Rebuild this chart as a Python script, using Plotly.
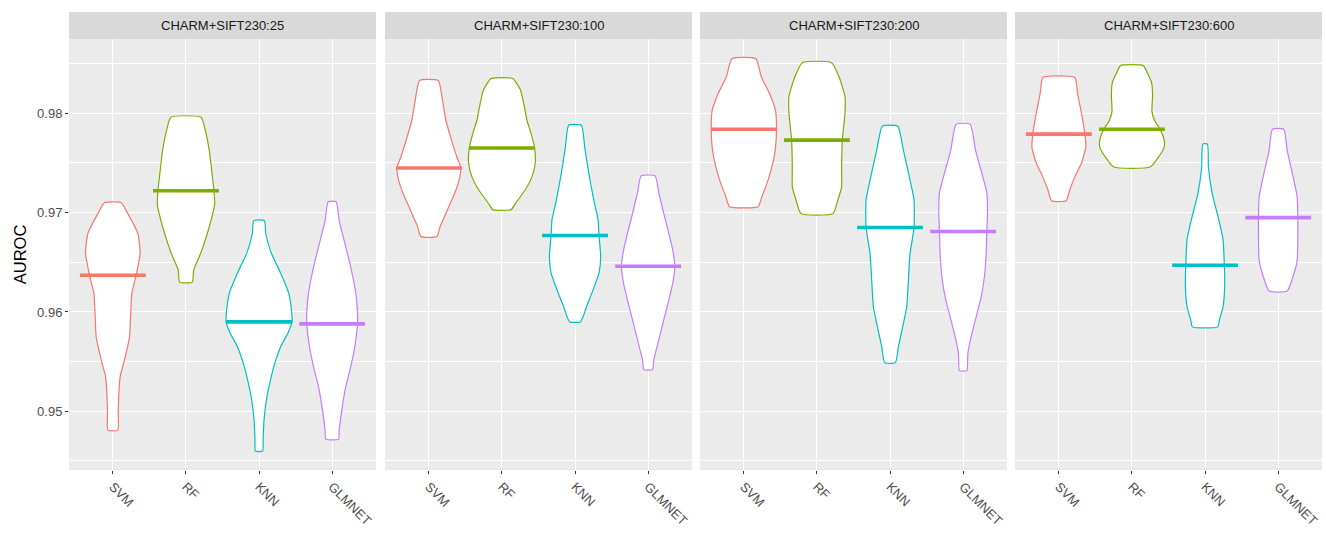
import plotly.graph_objects as go

facets = ["CHARM+SIFT230:25", "CHARM+SIFT230:100", "CHARM+SIFT230:200", "CHARM+SIFT230:600"]
models = ["SVM", "RF", "KNN", "GLMNET"]
colors = ["#F8766D", "#7CAE00", "#00BFC4", "#C77CFF"]

y_ticks = [0.95, 0.96, 0.97, 0.98]
y_minor = [0.945, 0.955, 0.965, 0.975, 0.985]

# median AUROC per model (SVM, RF, KNN, GLMNET)
median_25 = [0.9637, 0.9722, 0.9590, 0.9588]
median_100 = [0.9745, 0.9765, 0.9677, 0.9646]
median_200 = [0.9784, 0.9773, 0.9685, 0.9681]
median_600 = [0.9779, 0.9784, 0.9647, 0.9695]

# violin density profiles: (AUROC, half-width in category units), top to bottom
svm_25 = [(0.9710, 0.114), (0.9699, 0.205), (0.9679, 0.342), (0.9659, 0.374), (0.9637, 0.319),
          (0.9619, 0.260), (0.9595, 0.242), (0.9575, 0.228), (0.9552, 0.160), (0.9535, 0.100),
          (0.9518, 0.082), (0.9498, 0.073), (0.9481, 0.068)]
rf_25 = [(0.9796, 0.205), (0.9780, 0.274), (0.9760, 0.324), (0.9740, 0.356), (0.9722, 0.383),
         (0.9708, 0.392), (0.9696, 0.356), (0.9679, 0.292), (0.9659, 0.201), (0.9642, 0.105),
         (0.9630, 0.087)]
knn_25 = [(0.9692, 0.073), (0.9679, 0.091), (0.9659, 0.169), (0.9639, 0.296), (0.9619, 0.406),
          (0.9599, 0.447), (0.9590, 0.451), (0.9579, 0.397), (0.9565, 0.296), (0.9548, 0.214),
          (0.9528, 0.146), (0.9511, 0.100), (0.9491, 0.068), (0.9471, 0.055), (0.9460, 0.050)]
glm_25 = [(0.9711, 0.055), (0.9692, 0.096), (0.9672, 0.164), (0.9645, 0.255), (0.9619, 0.324),
          (0.9599, 0.347), (0.9588, 0.347), (0.9565, 0.310), (0.9545, 0.255), (0.9525, 0.187),
          (0.9501, 0.132), (0.9481, 0.096), (0.9472, 0.087)]

svm_100 = [(0.9833, 0.128), (0.9813, 0.187), (0.9793, 0.233), (0.9773, 0.310), (0.9756, 0.383),
           (0.9745, 0.438), (0.9733, 0.415), (0.9720, 0.356), (0.9703, 0.255), (0.9686, 0.155),
           (0.9676, 0.109)]
rf_100 = [(0.9835, 0.146), (0.9824, 0.251), (0.9807, 0.306), (0.9793, 0.342), (0.9780, 0.397),
          (0.9765, 0.447), (0.9750, 0.456), (0.9736, 0.410), (0.9723, 0.319), (0.9709, 0.182),
          (0.9703, 0.128)]
knn_100 = [(0.9788, 0.087), (0.9766, 0.132), (0.9740, 0.187), (0.9713, 0.255), (0.9693, 0.315),
           (0.9677, 0.328), (0.9656, 0.351), (0.9639, 0.328), (0.9622, 0.246), (0.9605, 0.155),
           (0.9595, 0.109), (0.9590, 0.073)]
glm_100 = [(0.9737, 0.096), (0.9720, 0.146), (0.9699, 0.214), (0.9679, 0.283), (0.9662, 0.337),
           (0.9646, 0.365), (0.9629, 0.337), (0.9612, 0.283), (0.9592, 0.214), (0.9572, 0.146),
           (0.9552, 0.078), (0.9542, 0.059)]

svm_200 = [(0.9855, 0.164), (0.9837, 0.237), (0.9820, 0.351), (0.9803, 0.433), (0.9784, 0.447),
           (0.9763, 0.429), (0.9746, 0.383), (0.9730, 0.319), (0.9716, 0.246), (0.9706, 0.196)]
rf_200 = [(0.9851, 0.201), (0.9837, 0.301), (0.9817, 0.383), (0.9800, 0.383), (0.9773, 0.347),
          (0.9746, 0.337), (0.9726, 0.337), (0.9713, 0.287), (0.9699, 0.219)]
knn_200 = [(0.9787, 0.105), (0.9763, 0.182), (0.9736, 0.264), (0.9713, 0.328), (0.9685, 0.328),
           (0.9659, 0.274), (0.9632, 0.251), (0.9605, 0.228), (0.9585, 0.173), (0.9565, 0.114),
           (0.9549, 0.073)]
glm_200 = [(0.9789, 0.096), (0.9763, 0.169), (0.9736, 0.269), (0.9720, 0.324), (0.9699, 0.333),
           (0.9681, 0.324), (0.9659, 0.315), (0.9636, 0.292), (0.9615, 0.246), (0.9595, 0.178),
           (0.9575, 0.109), (0.9558, 0.064), (0.9541, 0.050)]

svm_600 = [(0.9836, 0.219), (0.9820, 0.255), (0.9800, 0.310), (0.9779, 0.356), (0.9766, 0.369),
           (0.9750, 0.310), (0.9736, 0.219), (0.9723, 0.150), (0.9712, 0.100)]
rf_600 = [(0.9848, 0.155), (0.9840, 0.214), (0.9831, 0.268), (0.9818, 0.282), (0.9802, 0.273),
          (0.9792, 0.314), (0.9784, 0.386), (0.9773, 0.441), (0.9766, 0.441), (0.9757, 0.373),
          (0.9746, 0.250)]
knn_600 = [(0.9769, 0.032), (0.9746, 0.046), (0.9720, 0.096), (0.9693, 0.187), (0.9673, 0.246),
           (0.9647, 0.264), (0.9626, 0.269), (0.9605, 0.246), (0.9592, 0.196), (0.9585, 0.173)]
glm_600 = [(0.9784, 0.078), (0.9763, 0.123), (0.9736, 0.205), (0.9716, 0.260), (0.9695, 0.269),
           (0.9673, 0.269), (0.9652, 0.260), (0.9636, 0.205), (0.9621, 0.123)]

profiles = [
    [svm_25, rf_25, knn_25, glm_25],
    [svm_100, rf_100, knn_100, glm_100],
    [svm_200, rf_200, knn_200, glm_200],
    [svm_600, rf_600, knn_600, glm_600],
]
medians = [median_25, median_100, median_200, median_600]

FONT = "Liberation Sans, Arial, sans-serif"
W, H = 1326, 546
ML, MR, MT, MB = 69, 4, 39, 76
plot_w = W - ML - MR
plot_h = H - MT - MB
panel_starts = [0, 316, 631, 946]
panel_w = 307
strip_h = 27
median_half = 0.45

fig = go.Figure()

for fi, facet in enumerate(facets):
    xa = "x" if fi == 0 else f"x{fi + 1}"
    ya = "y" if fi == 0 else f"y{fi + 1}"
    for mi, model in enumerate(models):
        c = mi + 1
        prof = profiles[fi][mi]
        ys = [p[0] for p in prof]
        ws = [p[1] for p in prof]
        xs_left = [c - w for w in ws]
        xs_right = [c + w for w in ws]
        px = xs_left + xs_right[::-1] + [xs_left[0]]
        py = ys + ys[::-1] + [ys[0]]
        fig.add_trace(go.Scatter(
            x=px, y=py, mode="lines", fill="toself", fillcolor="white",
            line=dict(color=colors[mi], width=1.2, shape="spline", smoothing=0.5),
            xaxis=xa, yaxis=ya, showlegend=False, hoverinfo="skip"))
        m = medians[fi][mi]
        fig.add_trace(go.Scatter(
            x=[c - median_half, c + median_half], y=[m, m], mode="lines",
            line=dict(color=colors[mi], width=3.6),
            xaxis=xa, yaxis=ya, showlegend=False, name=model))

y_range = [0.94409, 0.98748]
layout = dict(
    width=W, height=H,
    margin=dict(l=ML, r=MR, t=MT, b=MB),
    paper_bgcolor="white", plot_bgcolor="#EBEBEB",
    font=dict(family=FONT, color="#4D4D4D"),
    showlegend=False,
)
shapes = []
annotations = []
for fi, facet in enumerate(facets):
    suffix = "" if fi == 0 else str(fi + 1)
    d0 = panel_starts[fi] / plot_w
    d1 = (panel_starts[fi] + panel_w) / plot_w
    layout["xaxis" + suffix] = dict(
        domain=[d0, min(d1, 1.0)], range=[0.4, 4.6], anchor="y" + suffix,
        tickmode="array", tickvals=[1, 2, 3, 4], ticktext=models, tickangle=45,
        showgrid=True, gridcolor="white", gridwidth=1.3, zeroline=False,
        ticks="outside", ticklen=3, tickwidth=1.1, tickcolor="#333333",
        tickfont=dict(family=FONT, size=13, color="#4D4D4D"),
        showline=False, fixedrange=True)
    layout["yaxis" + suffix] = dict(
        domain=[0, 1], range=y_range, anchor="x" + suffix,
        tickmode="array", tickvals=y_ticks,
        ticktext=[f"{v:.2f}" for v in y_ticks] if fi == 0 else ["" for v in y_ticks],
        showticklabels=(fi == 0),
        showgrid=True, gridcolor="white", gridwidth=1.3, zeroline=False,
        ticks="outside" if fi == 0 else "", ticklen=3, tickwidth=1.1, tickcolor="#333333",
        tickfont=dict(family=FONT, size=13, color="#4D4D4D"),
        minor=dict(tickvals=y_minor, showgrid=True, gridcolor="white", gridwidth=0.6, ticks=""),
        showline=False, fixedrange=True)
    if fi == 0:
        layout["yaxis"]["title"] = dict(text="AUROC", font=dict(family=FONT, size=16.5, color="black"), standoff=6)
    shapes.append(dict(
        type="rect", xref=f"x{suffix} domain", yref="y domain",
        x0=0, x1=1, y0=1, y1=1 + strip_h / plot_h,
        fillcolor="#D9D9D9", line=dict(width=0), layer="below"))
    annotations.append(dict(
        text=facet, xref=f"x{suffix} domain", yref="y domain",
        x=0.5, y=1 + strip_h / plot_h / 2, showarrow=False,
        xanchor="center", yanchor="middle",
        font=dict(family=FONT, size=13, color="#1A1A1A")))
layout["shapes"] = shapes
layout["annotations"] = annotations
fig.update_layout(**layout)
fig.write_html("out.html")
